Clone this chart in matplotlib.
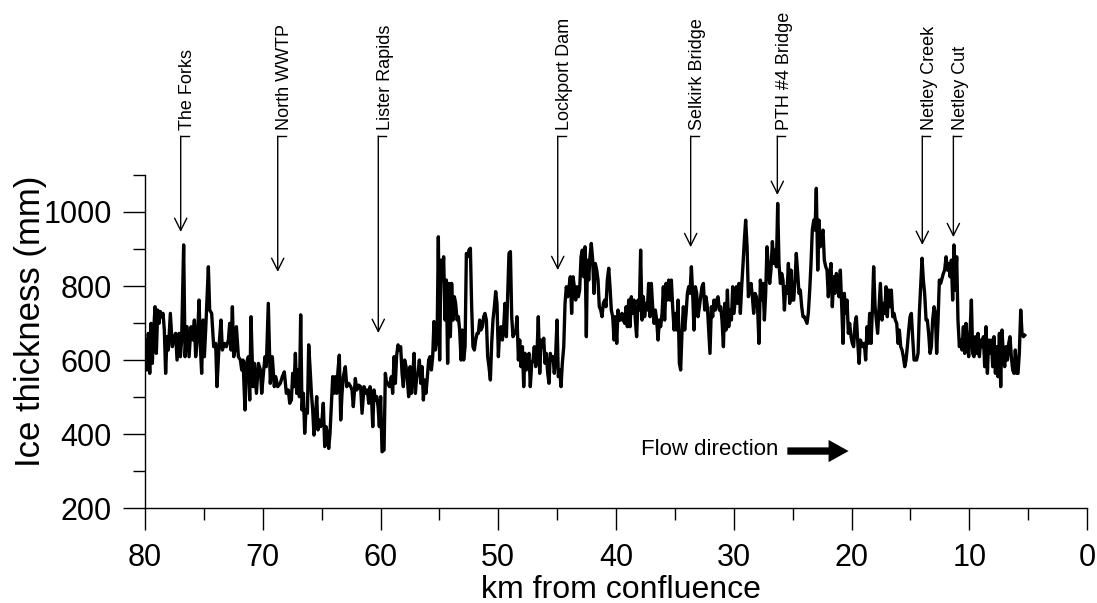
import matplotlib
matplotlib.use("Agg")
import matplotlib.pyplot as plt
from matplotlib.ticker import MultipleLocator

plt.rcParams['font.family'] = ['Liberation Sans', 'DejaVu Sans']

# distance upstream of the confluence (km) and ice thickness (mm)
km = [
    80.00, 79.94, 79.83, 79.72, 79.60, 79.49, 79.38, 79.26, 79.15, 79.04,
    78.92, 78.81, 78.70, 78.58, 78.47, 78.36, 78.25, 78.13, 78.02, 77.85,
    77.68, 77.51, 77.40, 77.28, 77.11, 77.00, 76.89, 76.72, 76.60, 76.43,
    76.26, 76.09, 75.92, 75.81, 75.70, 75.53, 75.41, 75.30, 75.19, 75.07,
    74.96, 74.85, 74.62, 74.51, 74.34, 74.17, 74.00, 73.89, 73.72, 73.55,
    73.43, 73.26, 73.09, 72.92, 72.81, 72.70, 72.58, 72.47, 72.36, 72.24,
    72.07, 71.90, 71.79, 71.68, 71.51, 71.39, 71.22, 71.11, 71.00, 70.83,
    70.71, 70.54, 70.37, 70.20, 70.09, 69.92, 69.81, 69.70, 69.53, 69.36,
    69.19, 69.02, 68.90, 68.73, 68.51, 68.34, 68.17, 68.00, 67.83, 67.71,
    67.57, 67.46, 67.35, 67.23, 67.12, 67.01, 66.89, 66.78, 66.67, 66.55,
    66.44, 66.33, 66.21, 66.10, 65.99, 65.87, 65.76, 65.65, 65.53, 65.42,
    65.31, 65.20, 65.08, 64.97, 64.86, 64.74, 64.63, 64.52, 64.40, 64.29,
    64.18, 64.06, 63.95, 63.84, 63.72, 63.61, 63.50, 63.38, 63.27, 63.16,
    62.99, 62.87, 62.70, 62.53, 62.42, 62.31, 62.14, 62.02, 61.85, 61.69,
    61.57, 61.40, 61.23, 61.12, 61.00, 60.89, 60.78, 60.66, 60.55, 60.44,
    60.32, 60.21, 60.10, 59.99, 59.87, 59.70, 59.59, 59.48, 59.36, 59.25,
    59.08, 58.97, 58.85, 58.74, 58.63, 58.51, 58.40, 58.29, 58.17, 58.06,
    57.95, 57.83, 57.72, 57.61, 57.49, 57.38, 57.27, 57.15, 57.04, 56.93,
    56.81, 56.70, 56.59, 56.47, 56.36, 56.25, 56.14, 56.02, 55.91, 55.80,
    55.68, 55.57, 55.46, 55.34, 55.23,
    55.20, 55.09, 54.98, 54.86, 54.75, 54.64, 54.52, 54.41, 54.30, 54.18,
    54.07, 53.96, 53.84, 53.73, 53.62, 53.50, 53.39, 53.28, 53.16, 53.05,
    52.94, 52.82, 52.71, 52.60, 52.49, 52.37, 52.26, 52.15, 52.03, 51.92,
    51.80, 51.69, 51.58, 51.47, 51.35, 51.24, 51.13, 51.01, 50.90, 50.79,
    50.67, 50.56, 50.45, 50.33, 50.22, 50.11, 49.99, 49.88, 49.77, 49.65,
    49.54, 49.43, 49.31, 49.20, 49.09, 48.97, 48.86, 48.75, 48.63, 48.52,
    48.41, 48.29, 48.18, 48.07, 47.95, 47.84, 47.73, 47.62, 47.50, 47.39,
    47.28, 47.16, 47.05, 46.94, 46.82, 46.71, 46.60, 46.48, 46.37, 46.26,
    46.14, 46.03, 45.92, 45.80, 45.69, 45.58, 45.46, 45.35, 45.24, 45.12,
    45.01, 44.90, 44.78, 44.67, 44.56, 44.44, 44.33, 44.22, 44.10, 43.99,
    43.88, 43.77, 43.65, 43.54, 43.43, 43.31, 43.20, 43.09, 42.97, 42.86,
    42.75, 42.63, 42.52,
    42.43, 42.32, 42.21, 42.10, 41.98, 41.87, 41.76, 41.64, 41.53, 41.42,
    41.30, 41.19, 41.08, 40.96, 40.85, 40.74, 40.62, 40.51, 40.40, 40.28,
    40.17, 40.06, 39.94, 39.83, 39.72, 39.60, 39.49, 39.38, 39.26, 39.15,
    39.04, 38.92, 38.81, 38.70, 38.58, 38.47, 38.36, 38.25, 38.13, 38.02,
    37.91, 37.79, 37.68, 37.57, 37.45, 37.34, 37.23, 37.11, 37.00, 36.89,
    36.77, 36.66, 36.55, 36.43, 36.32, 36.21, 36.09, 35.98, 35.87, 35.75,
    35.64, 35.53, 35.41, 35.30, 35.19, 35.07, 34.96, 34.85, 34.73, 34.62,
    34.51, 34.39, 34.28, 34.17, 34.05, 33.94, 33.83, 33.72, 33.60, 33.49,
    33.38, 33.26, 33.15, 33.04, 32.92, 32.81, 32.70, 32.58, 32.47, 32.36,
    32.24, 32.13, 32.02, 31.90, 31.79, 31.68, 31.56, 31.45, 31.34, 31.22,
    31.11, 31.00, 30.88, 30.77, 30.66, 30.54, 30.43, 30.32, 30.20, 30.09,
    29.98,
    29.78, 29.67, 29.55, 29.44, 29.33, 29.21, 29.10, 28.99, 28.87, 28.76,
    28.65, 28.53, 28.42, 28.31, 28.19, 28.08, 27.97, 27.86, 27.74, 27.63,
    27.52, 27.40, 27.29, 27.18, 27.06, 26.95, 26.84, 26.72, 26.61, 26.50,
    26.38, 26.27, 26.16, 26.04, 25.93, 25.82, 25.70, 25.59, 25.48, 25.36,
    25.25, 25.14, 25.02, 24.91, 24.80, 24.69, 24.57, 24.46, 24.35, 24.23,
    24.12, 24.01, 23.89, 23.78, 23.67, 23.55, 23.44, 23.33, 23.21, 23.10,
    22.99, 22.87, 22.76, 22.65, 22.53, 22.42, 22.31, 22.19, 22.08, 21.97,
    21.85, 21.74, 21.63, 21.51, 21.40, 21.29, 21.18, 21.06, 20.95, 20.83,
    20.72, 20.61, 20.50, 20.38, 20.27, 20.16, 20.04, 19.93, 19.82, 19.70,
    19.59, 19.48, 19.36, 19.25, 19.14, 19.02, 18.91, 18.80, 18.68, 18.57,
    18.46, 18.34, 18.23, 18.12, 18.00, 17.89, 17.78, 17.66, 17.55,
    17.41, 17.30, 17.18, 17.07, 16.96, 16.84, 16.73, 16.62, 16.50, 16.39,
    16.28, 16.16, 16.05, 15.94, 15.82, 15.71, 15.60, 15.48, 15.37, 15.26,
    15.14, 15.03, 14.92, 14.81, 14.69, 14.58, 14.47, 14.35, 14.24, 14.13,
    14.01, 13.90, 13.79, 13.67, 13.56, 13.45, 13.33, 13.22, 13.11, 12.99,
    12.88, 12.77, 12.65, 12.54, 12.43, 12.31, 12.20, 12.09, 11.97, 11.86,
    11.75, 11.63, 11.52, 11.41, 11.30, 11.18, 11.07, 10.96, 10.84, 10.73,
    10.62, 10.50, 10.39, 10.28, 10.16, 10.05, 9.94, 9.82, 9.71, 9.60,
    9.48, 9.37, 9.26, 9.14, 9.03, 8.92, 8.80, 8.69, 8.58, 8.46,
    8.35, 8.24, 8.12, 8.01, 7.90, 7.78, 7.67, 7.56, 7.44, 7.33,
    7.22, 7.10, 6.99, 6.88, 6.76, 6.65, 6.54, 6.43, 6.31, 6.20,
    6.09, 5.97, 5.86, 5.75, 5.63, 5.52, 5.40, 5.29,
]

ice_mm = [
    600, 654, 573, 672, 564, 699, 591, 681, 744, 618,
    735, 699, 731, 717, 726, 681, 564, 663, 627, 726,
    636, 663, 672, 600, 672, 609, 654, 911, 609, 690,
    609, 690, 654, 708, 609, 672, 762, 636, 564, 708,
    609, 681, 852, 735, 726, 636, 645, 528, 636, 708,
    627, 645, 636, 654, 699, 627, 744, 609, 627, 690,
    609, 600, 573, 600, 465, 591, 609, 492, 717, 528,
    591, 510, 591, 573, 510, 573, 609, 582, 753, 537,
    609, 528, 555, 528, 537, 555, 568, 510, 519, 483,
    492, 564, 528, 618, 510, 573, 501, 722, 465, 510,
    402, 465, 456, 641, 582, 510, 465, 397, 447, 501,
    411, 438, 420, 438, 483, 366, 420, 402, 361, 402,
    474, 555, 510, 555, 510, 573, 613, 438, 510, 555,
    582, 528, 537, 528, 519, 474, 550, 519, 532, 528,
    456, 528, 510, 519, 483, 528, 510, 420, 519, 492,
    501, 474, 420, 501, 352, 357, 564, 537, 537, 528,
    555, 510, 609, 537, 613, 641, 627, 636, 564, 528,
    600, 582, 546, 501, 582, 510, 555, 618, 510, 555,
    564, 600, 537, 582, 492, 546, 510, 555, 600, 609,
    573, 609, 704, 627, 654,
    645, 933, 600, 870, 816, 879, 708, 816, 591, 807,
    663, 807, 708, 771, 753, 708, 717, 681, 600, 681,
    600, 636, 888, 879, 897, 902, 744, 636, 627, 654,
    672, 672, 708, 681, 690, 717, 726, 708, 609, 582,
    546, 645, 708, 744, 785, 753, 609, 681, 690, 654,
    690, 753, 663, 780, 888, 893, 717, 663, 672, 672,
    717, 600, 654, 582, 636, 528, 618, 573, 600, 618,
    528, 591, 600, 636, 582, 618, 717, 564, 654, 636,
    659, 591, 618, 564, 537, 618, 600, 609, 564, 618,
    708, 555, 573, 528, 591, 636, 753, 798, 771, 798,
    825, 726, 825, 798, 762, 798, 771, 789, 879, 897,
    825, 906, 663,
    870, 816, 879, 915, 870, 780, 861, 843, 816, 744,
    735, 717, 753, 762, 744, 816, 848, 798, 735, 717,
    654, 717, 645, 735, 708, 708, 726, 708, 699, 744,
    690, 762, 690, 771, 726, 762, 708, 663, 762, 735,
    897, 708, 771, 717, 753, 735, 807, 717, 807, 744,
    699, 735, 708, 654, 708, 690, 726, 798, 708, 807,
    762, 816, 762, 816, 744, 681, 726, 681, 762, 591,
    573, 681, 744, 681, 726, 780, 798, 780, 852, 780,
    681, 798, 780, 717, 744, 771, 798, 807, 735, 771,
    744, 681, 618, 744, 717, 762, 735, 762, 771, 735,
    744, 708, 636, 753, 681, 789, 690, 735, 708, 798,
    726,
    798, 753, 807, 726, 798, 861, 924, 978, 906, 771,
    789, 807, 771, 726, 780, 771, 735, 645, 816, 762,
    807, 708, 780, 906, 852, 807, 843, 920, 861, 897,
    852, 1023, 861, 807, 834, 816, 735, 798, 780, 861,
    753, 843, 762, 762, 816, 888, 834, 780, 789, 744,
    717, 717, 708, 699, 726, 789, 861, 951, 978, 951,
    1064, 843, 978, 906, 933, 951, 870, 852, 843, 771,
    834, 861, 744, 825, 780, 834, 816, 771, 843, 744,
    645, 780, 726, 762, 672, 699, 663, 645, 636, 699,
    717, 654, 591, 654, 645, 636, 645, 600, 690, 645,
    726, 645, 735, 852, 744, 708, 672, 744, 807,
    708, 753, 726, 798, 717, 789, 744, 789, 717, 726,
    708, 699, 645, 681, 636, 627, 609, 582, 600, 636,
    681, 717, 726, 663, 600, 600, 600, 618, 726, 798,
    875, 816, 780, 708, 708, 672, 618, 636, 708, 744,
    726, 618, 708, 816, 807, 821, 834, 843, 879, 843,
    861, 825, 870, 762, 911, 789, 879, 708, 636, 654,
    627, 690, 618, 699, 645, 609, 672, 762, 618, 609,
    663, 618, 672, 609, 654, 636, 663, 582, 690, 564,
    654, 618, 654, 582, 663, 564, 636, 555, 672, 528,
    681, 609, 582, 636, 600, 645, 663, 609, 573, 564,
    627, 564, 564, 618, 735, 672, 663, 667,
]

# labelled sites: name, km from confluence, thickness the arrow points at
site_names = ['The Forks', 'North WWTP', 'Lister Rapids', 'Lockport Dam',
              'Selkirk Bridge', 'PTH #4 Bridge', 'Netley Creek', 'Netley Cut']
site_km = [76.97, 68.73, 60.19, 44.95, 33.66, 26.30, 13.99, 11.35]
site_tip = [946, 838, 673, 843, 905, 1046, 911, 932]

fig = plt.figure(figsize=(10.97, 6.03), dpi=100)
ax = fig.add_axes([0.1322, 0.1575, 0.8587, 0.5523])

ax.plot(km, ice_mm, color='black', linewidth=2.4, solid_joinstyle='round')

ax.set_xlim(80, 0)
ax.set_ylim(200, 1100)

ax.xaxis.set_major_locator(MultipleLocator(10))
ax.xaxis.set_minor_locator(MultipleLocator(5))
ax.yaxis.set_major_locator(MultipleLocator(200))
ax.yaxis.set_minor_locator(MultipleLocator(100))

ax.spines['top'].set_visible(False)
ax.spines['right'].set_visible(False)
for s in ['left', 'bottom']:
    ax.spines[s].set_linewidth(1.0)

ax.tick_params(which='major', direction='out', length=16, width=1.0, labelsize=22)
ax.tick_params(axis='x', which='major', pad=9)
ax.tick_params(axis='y', which='major', pad=8)
ax.tick_params(which='minor', direction='out', length=8.5, width=1.0)

ax.set_xlabel('km from confluence', fontsize=23)
ax.set_ylabel('Ice thickness (mm)', fontsize=25)
ax.xaxis.set_label_coords(0.505, -0.2)
ax.yaxis.set_label_coords(-0.104, 0.56)

# site markers above the profile
line_top = 1205
for name, x, tip in zip(site_names, site_km, site_tip):
    ax.annotate('', xy=(x, tip), xytext=(x, line_top), annotation_clip=False,
                arrowprops=dict(arrowstyle='->', lw=1.0, color='black',
                                shrinkA=0, shrinkB=0, mutation_scale=22))
    ax.plot([x, x - 0.68], [line_top, line_top], color='black', lw=1.0, clip_on=False)
    ax.text(x - 0.6, 1222, name, rotation=90, ha='center', va='bottom', fontsize=13)

# flow direction arrow
ax.text(26.24, 357, 'Flow direction', ha='right', va='center', fontsize=16)
ax.annotate('', xy=(20.25, 354), xytext=(25.45, 354),
            arrowprops=dict(arrowstyle='simple,head_length=0.9,head_width=1.0,tail_width=0.33',
                            mutation_scale=16, fc='black', ec='black', lw=0,
                            shrinkA=0, shrinkB=0))

fig.savefig('out.png', dpi=100)
